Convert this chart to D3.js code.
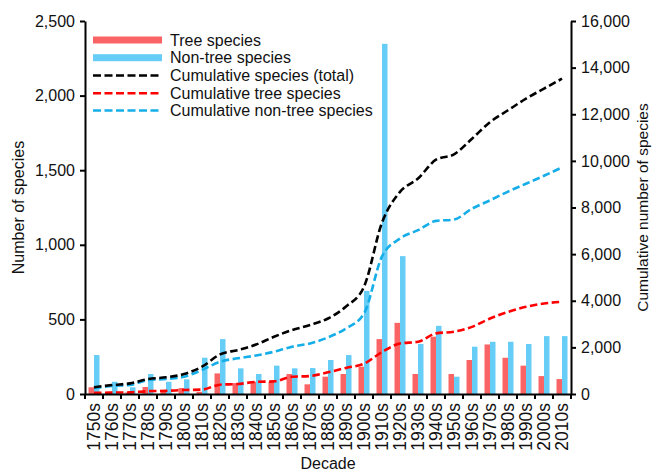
<!DOCTYPE html>
<html><head><meta charset="utf-8">
<script src="https://cdn.jsdelivr.net/npm/d3@7"></script>
<style>
body{margin:0;background:#fff}
text{font-family:"Liberation Sans",Arial,Helvetica,sans-serif;fill:#111}
</style>
</head><body><svg id="c" width="653" height="472"></svg>
<script>
const decades = ["1750s","1760s","1770s","1780s","1790s","1800s","1810s","1820s","1830s","1840s","1850s","1860s","1870s","1880s","1890s","1900s","1910s","1920s","1930s","1940s","1950s","1960s","1970s","1980s","1990s","2000s","2010s"];
const treeSpecies = [45, 15, 10, 47, 15, 40, 15, 138, 73, 82, 82, 134, 65, 116, 134, 183, 368, 477, 134, 384, 134, 228, 332, 243, 190, 120, 100];
const nonTreeSpecies = [261, 82, 45, 134, 82, 98, 243, 368, 172, 134, 190, 172, 174, 228, 261, 691, 2347, 924, 335, 457, 116, 317, 350, 350, 335, 388, 388];
const cumTotal = [290, 385, 455, 640, 715, 855, 1170, 1700, 1885, 2120, 2455, 2740, 2960, 3240, 3750, 4600, 7350, 8670, 9240, 10050, 10280, 10950, 11660, 12170, 12670, 13100, 13525];
const cumTree = [50, 60, 70, 120, 135, 170, 190, 400, 430, 520, 540, 740, 770, 930, 1120, 1300, 1800, 2170, 2240, 2600, 2670, 2880, 3240, 3520, 3740, 3880, 3955];
const cumNonTree = [245, 343, 385, 600, 643, 740, 1030, 1385, 1530, 1650, 1812, 2026, 2170, 2428, 2814, 3450, 5900, 6670, 7026, 7425, 7484, 7950, 8310, 8680, 9020, 9360, 9720];
const leftTicks = [0, 500, 1000, 1500, 2000, 2500];
const rightTicks = [0, 2000, 4000, 6000, 8000, 10000, 12000, 14000, 16000];
const legendLabels = ["Tree species", "Non-tree species", "Cumulative species (total)", "Cumulative tree species", "Cumulative non-tree species"];

const svg = d3.select("#c");
const L = 85, R = 571, T = 21, B = 394;
const FS = "16px", FSX = "17.5px";
const red = "#fb6464", blue = "#66cdf6", redLine = "#ff0000", blueLine = "#16aee8";

const x = d3.scaleBand().domain(decades).range([L, R]).padding(0);
const inner = d3.scaleBand().domain(["tree","non"]).range([0, x.bandwidth()]).paddingInner(0).paddingOuter(0.64);
const yL = d3.scaleLinear().domain([0, 2500]).range([B, T]);
const yR = d3.scaleLinear().domain([0, 16000]).range([B, T]);

// bars
const g = svg.append("g");
decades.forEach((d, i) => {
  g.append("rect").attr("x", x(d) + inner("tree")).attr("width", inner.bandwidth())
    .attr("y", yL(treeSpecies[i])).attr("height", B - yL(treeSpecies[i])).attr("fill", red);
  g.append("rect").attr("x", x(d) + inner("non")).attr("width", inner.bandwidth())
    .attr("y", yL(nonTreeSpecies[i])).attr("height", B - yL(nonTreeSpecies[i])).attr("fill", blue);
});

// lines
const line = d3.line().x((v, i) => x(decades[i]) + x.bandwidth()/2).y(v => yR(v)).curve(d3.curveMonotoneX);
const series = [[cumTree, redLine], [cumNonTree, blueLine], [cumTotal, "#000"]];
series.forEach(([data, col]) => {
  svg.append("path").attr("d", line(data)).attr("fill", "none").attr("stroke", col)
    .attr("stroke-width", 2.6).attr("stroke-dasharray", "7.5,3.5");
});

// axes
const axL = svg.append("g").attr("transform", `translate(${L},0)`)
  .call(d3.axisLeft(yL).tickValues(leftTicks).tickFormat(d3.format(",")).tickSize(5).tickSizeOuter(0).tickPadding(5));
const axR = svg.append("g").attr("transform", `translate(${R},0)`)
  .call(d3.axisRight(yR).tickValues(rightTicks).tickFormat(d3.format(",")).tickSize(5).tickSizeOuter(0).tickPadding(5));
const axB = svg.append("g").attr("transform", `translate(0,${B})`)
  .call(d3.axisBottom(x).tickSize(0).tickSizeOuter(0).tickPadding(0));
const bounds = decades.map(d => x(d)).concat([R]);
axB.selectAll(".btick").data(bounds).enter().append("line").attr("class","btick")
  .attr("x1", d => d).attr("x2", d => d).attr("y1", 0).attr("y2", 5).attr("stroke", "#000").attr("stroke-width", 2);
[axL, axR, axB].forEach(a => {
  a.selectAll("path.domain").attr("stroke", "#000").attr("stroke-width", 2);
  a.selectAll(".tick line").attr("stroke", "#000").attr("stroke-width", 2);
  a.selectAll("text").attr("font-size", FS).attr("font-family", '"Liberation Sans",Arial,sans-serif').attr("fill", "#111");
});
axB.selectAll(".tick text").attr("transform", "rotate(-90)").attr("text-anchor", "end")
  .attr("x", -9).attr("y", 0).attr("dy", "0.36em").attr("font-size", FSX);

// titles
svg.append("text").attr("transform", `translate(18,${(T+B)/2}) rotate(-90)`).attr("text-anchor","middle")
  .attr("dy","0.35em").attr("font-size", FS).text("Number of species");
svg.append("text").attr("transform", `translate(643,${(T+B)/2}) rotate(-90)`).attr("text-anchor","middle")
  .attr("dy","0.35em").attr("font-size", "15.5px").text("Cumulative number of species");
svg.append("text").attr("x", (L+R)/2).attr("y", 463).attr("text-anchor","middle")
  .attr("dy","0.35em").attr("font-size", FS).text("Decade");

// legend
const lg = svg.append("g");
const rowY = [40, 57.7, 75.5, 93.2, 110.5];
legendLabels.forEach((lab, i) => {
  const yy = rowY[i];
  if (i < 2) {
    lg.append("rect").attr("x", 93).attr("y", yy - 3.5).attr("width", 69).attr("height", 7).attr("fill", i === 0 ? red : blue);
  } else {
    const col = i === 2 ? "#000" : (i === 3 ? redLine : blueLine);
    lg.append("line").attr("x1", 93).attr("x2", 162).attr("y1", yy).attr("y2", yy)
      .attr("stroke", col).attr("stroke-width", 2.4).attr("stroke-dasharray", "8,3.5");
  }
  lg.append("text").attr("x", 170).attr("y", yy).attr("dy", "0.35em").attr("font-size", FS).text(lab);
});
</script>
</body></html>
